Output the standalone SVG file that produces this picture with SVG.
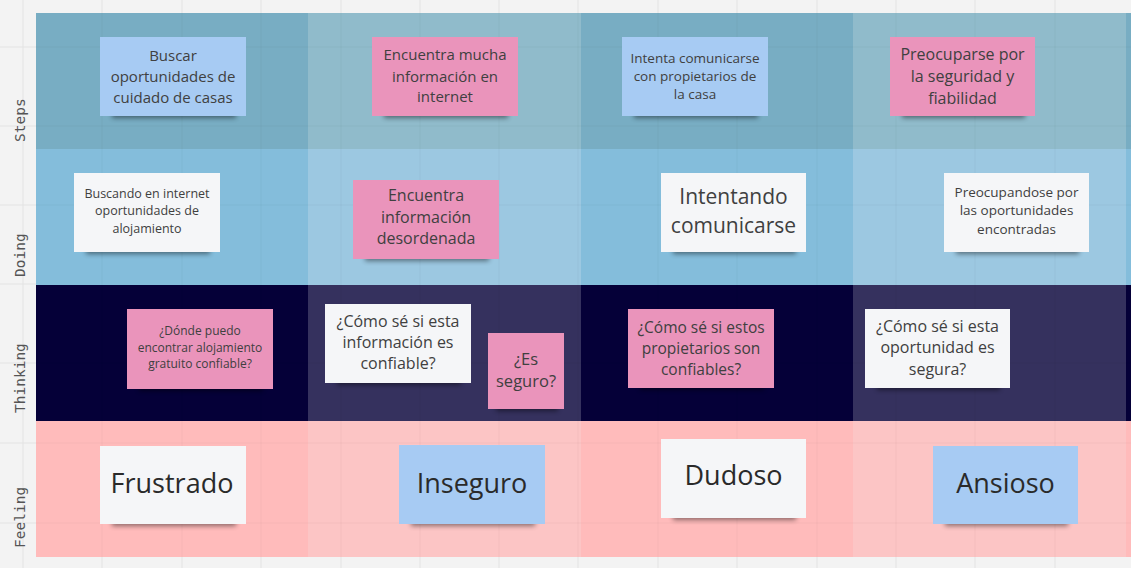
<svg xmlns="http://www.w3.org/2000/svg" width="1131" height="568" viewBox="0 0 1131 568">
<style>
.lbl{font-family:"DejaVu Sans Mono","Liberation Mono",monospace;font-size:14.5px;fill:#555}
.t{font-family:"Open Sans","Noto Sans",sans-serif;fill:#404040;text-anchor:middle}
.big{fill:#2a2a2a}
.blue{fill:#a7cbf3}
.pink{fill:#ea94bb}
.white{fill:#f5f6f8}
.sh{fill:#000;opacity:.45;filter:url(#blur)}
.g{stroke:#e3e3e3;stroke-width:1}
.go{stroke:#000;stroke-opacity:.035;stroke-width:1}
</style>
<defs>
<filter id="blur" x="-20%" y="-100%" width="140%" height="300%"><feGaussianBlur stdDeviation="2.5"/></filter>
</defs>
<rect width="1131" height="568" fill="#f3f3f3"/>
<g id="grid">
<path class="g" d="M23 0V568M102 0V568M182 0V568M261 0V568M341 0V568M420 0V568M499 0V568M578 0V568M658 0V568M737 0V568M817 0V568M896 0V568M975 0V568M1055 0V568M0 47H1131M0 126H1131M0 205H1131M0 284H1131M0 363H1131M0 443H1131M0 523H1131"/>
</g>
<g id="bands">
<rect x="36" y="13" width="272" height="136" fill="#78adc3"/>
<rect x="308" y="13" width="273" height="136" fill="#90bbcb"/>
<rect x="581" y="13" width="272" height="136" fill="#78adc3"/>
<rect x="853" y="13" width="273" height="136" fill="#90bbcb"/>
<rect x="1126" y="13" width="5" height="136" fill="#78adc3"/>
<rect x="36" y="149" width="272" height="136" fill="#84bddb"/>
<rect x="308" y="149" width="273" height="136" fill="#9cc8e1"/>
<rect x="581" y="149" width="272" height="136" fill="#84bddb"/>
<rect x="853" y="149" width="273" height="136" fill="#9cc8e1"/>
<rect x="1126" y="149" width="5" height="136" fill="#84bddb"/>
<rect x="36" y="285" width="272" height="136" fill="#050038"/>
<rect x="308" y="285" width="273" height="136" fill="#35315e"/>
<rect x="581" y="285" width="272" height="136" fill="#050038"/>
<rect x="853" y="285" width="273" height="136" fill="#35315e"/>
<rect x="1126" y="285" width="5" height="136" fill="#050038"/>
<rect x="36" y="421" width="272" height="136" fill="#ffbbbb"/>
<rect x="308" y="421" width="273" height="136" fill="#fcc5c5"/>
<rect x="581" y="421" width="272" height="136" fill="#ffbbbb"/>
<rect x="853" y="421" width="273" height="136" fill="#fcc5c5"/>
<rect x="1126" y="421" width="5" height="136" fill="#ffbbbb"/>
<path class="go" d="M102 13V557M182 13V557M261 13V557M341 13V557M420 13V557M499 13V557M578 13V557M658 13V557M737 13V557M817 13V557M896 13V557M975 13V557M1055 13V557M36 47H1131M36 126H1131M36 205H1131M36 363H1131M36 443H1131M36 523H1131"/>
</g>
<g id="labels">
<text class="lbl" transform="translate(25 142) rotate(-90)">Steps</text>
<text class="lbl" transform="translate(25 277) rotate(-90)">Doing</text>
<text class="lbl" transform="translate(25 413) rotate(-90)">Thinking</text>
<text class="lbl" transform="translate(25 548) rotate(-90)">Feeling</text>
</g>
<g id="connectors"/>
<g id="n1"><rect class="sh" x="112" y="111" width="124" height="7"/><rect class="blue" x="100" y="37" width="146" height="79"/>
<text class="t" font-size="15"><tspan x="173" y="61">Buscar</tspan><tspan x="173" y="82">oportunidades de</tspan><tspan x="173" y="103">cuidado de casas</tspan></text></g>
<g id="n2"><rect class="sh" x="384" y="111" width="124" height="7"/><rect class="pink" x="372" y="37" width="146" height="79"/>
<text class="t" font-size="15"><tspan x="445" y="60">Encuentra mucha</tspan><tspan x="445" y="82">información en</tspan><tspan x="445" y="102">internet</tspan></text></g>
<g id="n3"><rect class="sh" x="634" y="111" width="124" height="7"/><rect class="blue" x="622" y="37" width="146" height="79"/>
<text class="t" font-size="13.5"><tspan x="695" y="63">Intenta comunicarse</tspan><tspan x="695" y="81">con propietarios de</tspan><tspan x="695" y="99">la casa</tspan></text></g>
<g id="n4"><rect class="sh" x="902" y="111" width="123" height="7"/><rect class="pink" x="890" y="37" width="145" height="79"/>
<text class="t" font-size="16"><tspan x="962.5" y="60">Preocuparse por</tspan><tspan x="962.5" y="82">la seguridad y</tspan><tspan x="962.5" y="104">fiabilidad</tspan></text></g>
<g id="n5"><rect class="sh" x="86" y="247" width="124" height="7"/><rect class="white" x="74" y="173" width="146" height="79"/>
<text class="t" font-size="12.5"><tspan x="147" y="198">Buscando en internet</tspan><tspan x="147" y="215">oportunidades de</tspan><tspan x="147" y="233">alojamiento</tspan></text></g>
<g id="n6"><rect class="sh" x="365" y="254" width="124" height="7"/><rect class="pink" x="353" y="180" width="146" height="79"/>
<text class="t" font-size="16"><tspan x="426" y="201">Encuentra</tspan><tspan x="426" y="223">información</tspan><tspan x="426" y="244">desordenada</tspan></text></g>
<g id="n7"><rect class="sh" x="673" y="247" width="123" height="7"/><rect class="white" x="661" y="173" width="145" height="79"/>
<text class="t" font-size="21"><tspan x="733.5" y="204">Intentando</tspan><tspan x="733.5" y="233">comunicarse</tspan></text></g>
<g id="n8"><rect class="sh" x="956" y="247" width="123" height="7"/><rect class="white" x="944" y="173" width="145" height="79"/>
<text class="t" font-size="13.5"><tspan x="1016.5" y="197">Preocupandose por</tspan><tspan x="1016.5" y="215">las oportunidades</tspan><tspan x="1016.5" y="234">encontradas</tspan></text></g>
<g id="n9"><rect class="sh" x="139" y="384" width="124" height="7"/><rect class="pink" x="127" y="309" width="146" height="80"/>
<text class="t" font-size="12"><tspan x="200" y="335">¿Dónde puedo</tspan><tspan x="200" y="352">encontrar alojamiento</tspan><tspan x="200" y="368">gratuito confiable?</tspan></text></g>
<g id="n10"><rect class="sh" x="337" y="378" width="124" height="7"/><rect class="white" x="325" y="304" width="146" height="79"/>
<text class="t" font-size="16"><tspan x="398" y="327">¿Cómo sé si esta</tspan><tspan x="398" y="348">información es</tspan><tspan x="398" y="369">confiable?</tspan></text></g>
<g id="n11"><rect class="sh" x="496" y="404" width="62" height="7"/><rect class="pink" x="488" y="333" width="76" height="76"/>
<text class="t" font-size="16.5"><tspan x="526" y="365">¿Es</tspan><tspan x="526" y="387">seguro?</tspan></text></g>
<g id="n12"><rect class="sh" x="640" y="383" width="124" height="7"/><rect class="pink" x="628" y="309" width="146" height="79"/>
<text class="t" font-size="15.5"><tspan x="701" y="333">¿Cómo sé si estos</tspan><tspan x="701" y="354">propietarios son</tspan><tspan x="701" y="375">confiables?</tspan></text></g>
<g id="n13"><rect class="sh" x="877" y="383" width="123" height="7"/><rect class="white" x="865" y="309" width="145" height="79"/>
<text class="t" font-size="16"><tspan x="937.5" y="332">¿Cómo sé si esta</tspan><tspan x="937.5" y="353">oportunidad es</tspan><tspan x="937.5" y="375">segura?</tspan></text></g>
<g id="n14"><rect class="sh" x="112" y="519" width="124" height="7"/><rect class="white" x="100" y="446" width="146" height="78"/>
<text class="t big" font-size="27" x="172" y="493">Frustrado</text></g>
<g id="n15"><rect class="sh" x="411" y="519" width="124" height="7"/><rect class="blue" x="399" y="445" width="146" height="79"/>
<text class="t big" font-size="27" x="472" y="493">Inseguro</text></g>
<g id="n16"><rect class="sh" x="673" y="513" width="123" height="7"/><rect class="white" x="661" y="439" width="145" height="79"/>
<text class="t big" font-size="27" x="733.5" y="485">Dudoso</text></g>
<g id="n17"><rect class="sh" x="945" y="519" width="123" height="7"/><rect class="blue" x="933" y="446" width="145" height="78"/>
<text class="t big" font-size="27" x="1005.5" y="493">Ansioso</text></g>
</svg>
